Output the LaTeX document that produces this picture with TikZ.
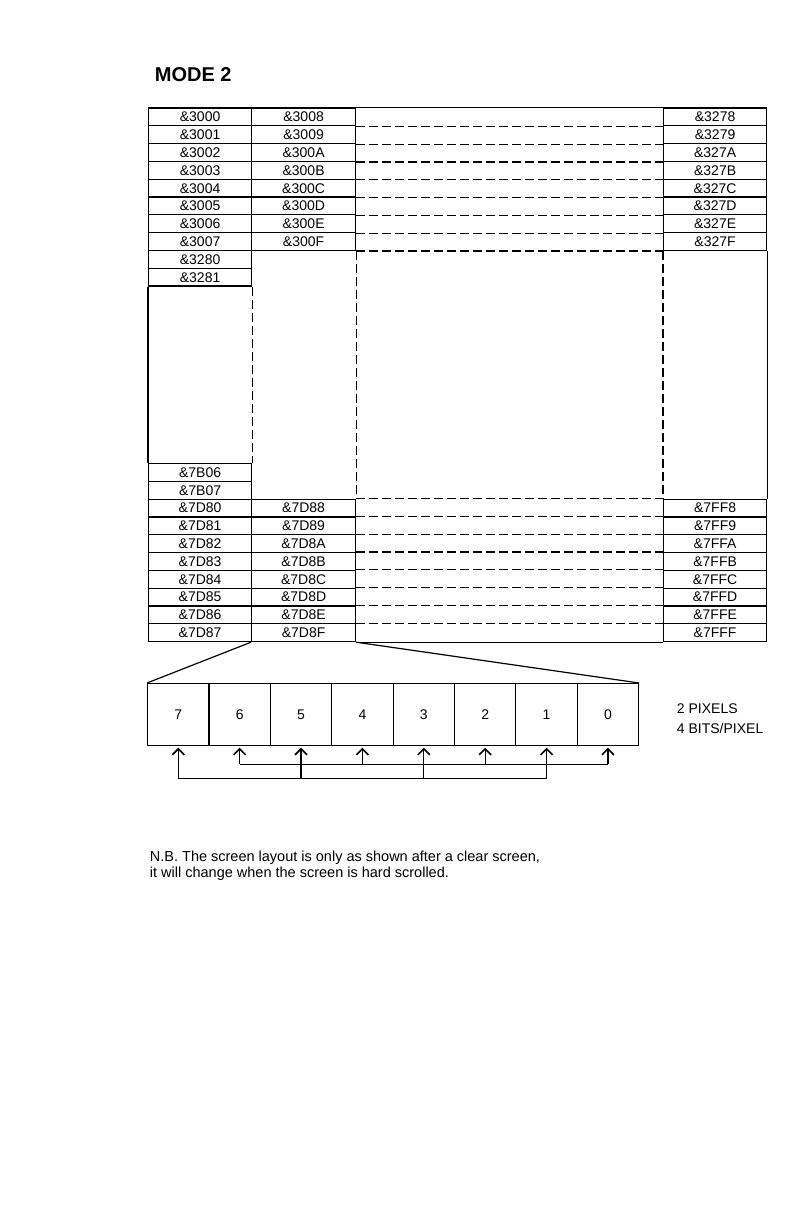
\documentclass[tikz,border=0pt]{standalone}
\usepackage{fontspec}
\setmainfont{Liberation Sans}
\usetikzlibrary{arrows.meta,calc}
\begin{document}
\begin{tikzpicture}[x=1pt,y=-1pt,
  every path/.style={line width=1.2pt},
  lbl/.style={font=\fontsize{14}{16}\selectfont},
  cellA/.style={draw, line width=1.2pt, inner sep=0pt, anchor=north west,
    minimum width=103pt, minimum height=17.8pt, lbl},
  cellB/.style={cellA, minimum width=104pt},
  dsh/.style={line width=1.2pt, dash pattern=on 9pt off 4pt},
  bitbox/.style={draw, line width=1.2pt, inner sep=0pt, anchor=north west,
    minimum width=61.375pt, minimum height=62pt, lbl},
  arr/.style={line width=1.3pt, -{Straight Barb[length=6pt,width=12pt,line width=1.6pt]}, shorten >=1.5pt},
  note/.style={anchor=base west, font=\fontsize{14.5}{16}\selectfont}
]
\useasboundingbox (0,0) rectangle (808,1214);

% title
\node[anchor=base west, font=\bfseries\fontsize{20}{24}\selectfont] (title) at (151,82) {MODE 2};

% top block
\foreach \a/\b/\c [count=\i from 0] in {3000/3008/3278,3001/3009/3279,3002/300A/327A,3003/300B/327B,3004/300C/327C,3005/300D/327D,3006/300E/327E,3007/300F/327F}{
  \node[cellA] (L\i) at (148,{107.5+17.8*\i}) {\&\a};
  \node[cellB] (M\i) at (251,{107.5+17.8*\i}) {\&\b};
  \node[cellA] (R\i) at (663,{107.5+17.8*\i}) {\&\c};
}
\node[cellA] (L8) at (148,{107.5+17.8*8}) {\&3280};
\node[cellA] (L9) at (148,{107.5+17.8*9}) {\&3281};

% bottom block
\node[cellA] (K6) at (148,{641-17.8*10}) {\&7B06};
\node[cellA] (K7) at (148,{641-17.8*9}) {\&7B07};
\foreach \a/\b/\c [count=\i from 0] in {7D80/7D88/7FF8,7D81/7D89/7FF9,7D82/7D8A/7FFA,7D83/7D8B/7FFB,7D84/7D8C/7FFC,7D85/7D8D/7FFD,7D86/7D8E/7FFE,7D87/7D8F/7FFF}{
  \node[cellA] (P\i) at (148,{641-17.8*(8-\i)}) {\&\a};
  \node[cellB] (Q\i) at (251,{641-17.8*(8-\i)}) {\&\b};
  \node[cellA] (S\i) at (663,{641-17.8*(8-\i)}) {\&\c};
}

% column 3 borders and dashed row lines
\draw (M0.north east) -- (R0.north west);
\draw (Q7.south east) -- (S7.south west);
\foreach \i in {0,...,7}{
  \draw[dsh] (M\i.south east) -- (R\i.south west);
  \draw[dsh] (Q\i.north east) -- (S\i.north west);
}
% middle region verticals
\draw[dsh] (M7.south east) -- (Q0.north east);
\draw[dsh] (R7.south west) -- (S0.north west);
\draw (R7.south east) -- (S0.north east);
\draw (L9.south west) -- (K6.north west);
\draw[dsh] (L9.south east) -- (K6.north east);

% bits
\foreach \n [count=\i from 0] in {7,6,5,4,3,2,1,0}{
  \node[bitbox] (b\n) at ({147+61.375*\i},683) {\n};
}
\draw (Q7.south west) -- (b7.north west);
\draw (Q7.south east) -- (b0.north east);

% arrows
\path (b7.south) ++(0,32) coordinate (a7);
\path (b6.south) ++(0,18) coordinate (a6);
\draw (a7) -- (b1.south |- a7);
\draw (a6) -- (b0.south |- a6);
\draw[arr] (a7) -- (b7.south);
\foreach \n in {5,3,1}{ \draw[arr] (b\n.south |- a7) -- (b\n.south); }
\draw[arr] (a6) -- (b6.south);
\foreach \n in {4,2,0}{ \draw[arr] (b\n.south |- a6) -- (b\n.south); }

% side text
\node[anchor=west, lbl] (px) at (673,709) {2 PIXELS};
\node[anchor=west, lbl] (bp) at (673,728) {4 BITS/PIXEL};

% note
\node[note] (n1) at (146,861) {N.B. The screen layout is only as shown after a clear screen,};
\node[note] (n2) at (146,877) {it will change when the screen is hard scrolled.};
\end{tikzpicture}
\end{document}
